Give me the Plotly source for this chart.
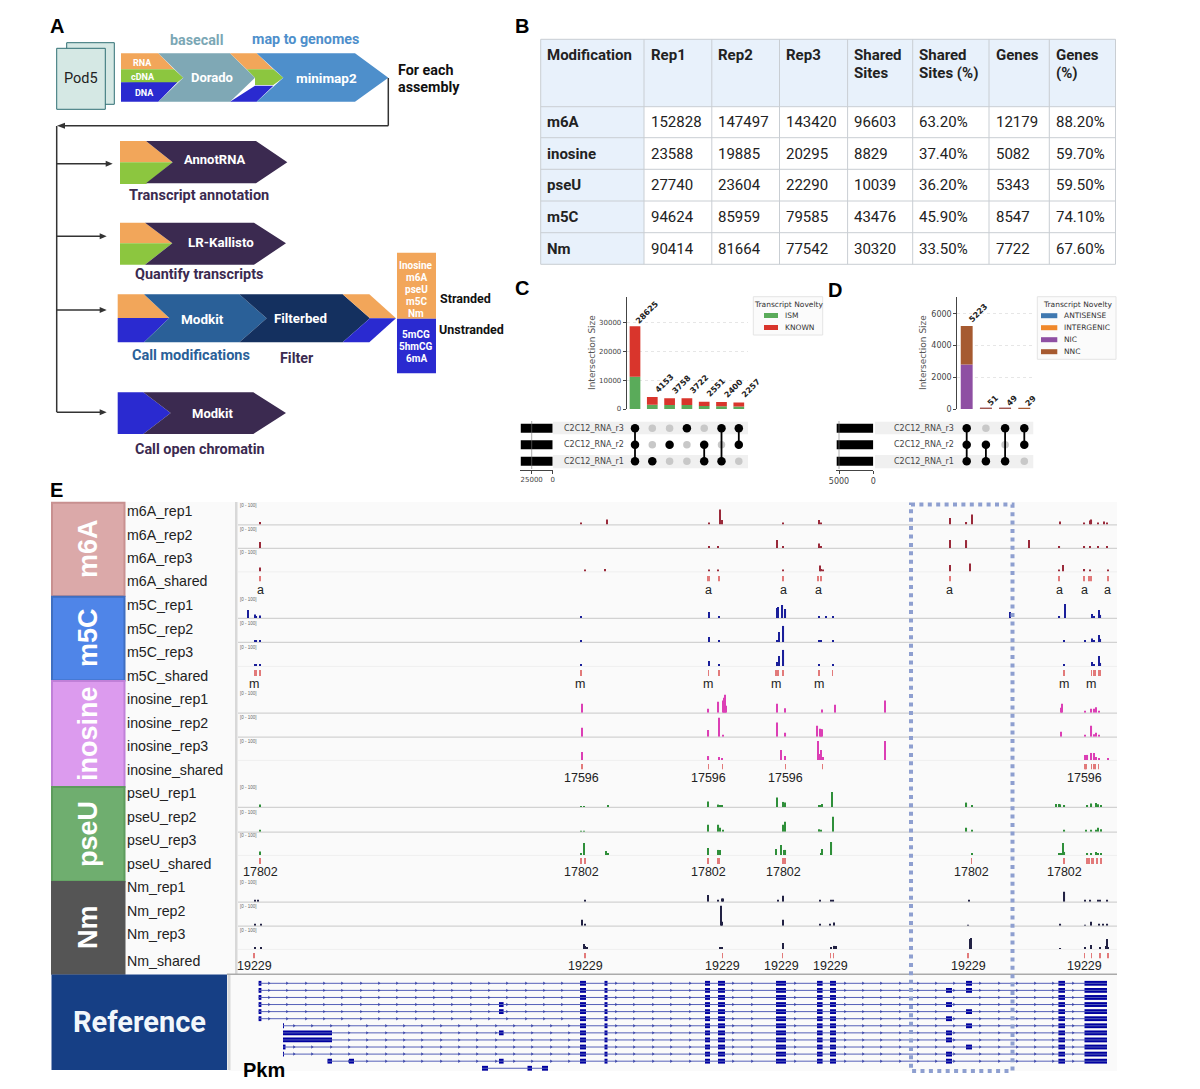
import plotly.graph_objects as go

W, H = 1200, 1089

# ---------- Panel B data ----------
TABLE_HEAD = ["Modification", "Rep1", "Rep2", "Rep3", "Shared<br>Sites", "Shared<br>Sites (%)", "Genes", "Genes<br>(%)"]
MODS = ["m6A", "inosine", "pseU", "m5C", "Nm"]
REP1 = ["152828", "23588", "27740", "94624", "90414"]
REP2 = ["147497", "19885", "23604", "85959", "81664"]
REP3 = ["143420", "20295", "22290", "79585", "77542"]
SHARED = ["96603", "8829", "10039", "43476", "30320"]
SHARED_PCT = ["63.20%", "37.40%", "36.20%", "45.90%", "33.50%"]
GENES = ["12179", "5082", "5343", "8547", "7722"]
GENES_PCT = ["88.20%", "59.70%", "59.50%", "74.10%", "67.60%"]

# ---------- Panel C / D data ----------
SETS = ["C2C12_RNA_r3", "C2C12_RNA_r2", "C2C12_RNA_r1"]
C_TOTAL = [28625, 4153, 3758, 3722, 2551, 2400, 2257]
C_ISM = [11200, 1500, 1400, 1350, 1000, 950, 900]
C_KNOWN = [17425, 2653, 2358, 2372, 1551, 1450, 1357]
C_MEMBERS = [[0, 1, 2], [2], [1], [0], [1, 2], [0, 2], [0, 1]]
C_SET_SIZE = [38000, 38000, 38000]
D_TOTAL = [5223, 51, 49, 29]
D_NIC = [2800, 22, 20, 12]
D_NNC = [2423, 29, 29, 17]
D_MEMBERS = [[0, 1, 2], [1, 2], [0, 2], [0, 1]]
D_SET_SIZE = [5340, 5340, 5340]

# ---------- Panel E data: position along the locus, coverage 0-100 ----------
M6A_REP1_POS = [260, 581, 607, 709, 720, 722, 783, 819, 821, 950, 966.5, 972, 1060, 1084.5, 1090, 1091.5, 1097.6, 1104, 1107]
M6A_REP1_VAL = [11, 5, 23, 7, 68, 20, 5, 20, 5, 30, 11, 45, 14, 7, 18, 23, 9, 14, 7]
M6A_REP2_POS = [260, 709, 718, 777, 783, 819, 821, 950, 966.5, 1029, 1059.5, 1084.5, 1090, 1098, 1107]
M6A_REP2_VAL = [27, 7, 5, 36, 5, 20, 5, 36, 36, 36, 5, 9, 9, 5, 5]
M6A_REP3_POS = [260, 585, 605, 709, 718, 783, 820, 821, 823, 950, 970, 1059.5, 1063, 1084.5, 1090.5, 1108]
M6A_REP3_VAL = [18, 5, 11, 5, 5, 5, 27, 11, 5, 30, 36, 7, 30, 11, 5, 5]
M6A_SHARED = [260, 708, 709.5, 719, 783, 818, 821, 950, 1059, 1084, 1089, 1091, 1108]

M5C_REP1_POS = [248, 255, 256.5, 260, 581, 709, 719, 777, 778, 782.5, 785.5, 819, 826, 833, 1010, 1059.5, 1065, 1092, 1094, 1099, 1100.5]
M5C_REP1_VAL = [36, 16, 9, 11, 5, 27, 5, 45, 50, 59, 41, 5, 5, 5, 27, 5, 64, 18, 5, 36, 14]
M5C_REP2_POS = [255, 256.5, 260, 581, 709, 719, 777, 779, 783.5, 819, 821, 833, 1064, 1085, 1092, 1094, 1099, 1100.5]
M5C_REP2_VAL = [9, 9, 9, 5, 23, 5, 9, 45, 73, 5, 5, 5, 5, 9, 16, 5, 32, 14]
M5C_REP3_POS = [255, 256.5, 260, 581, 709, 719, 777, 779, 783.5, 819, 833, 1064, 1092, 1094, 1099, 1100.5]
M5C_REP3_VAL = [9, 9, 7, 5, 23, 7, 18, 45, 73, 5, 5, 5, 18, 5, 45, 14]
M5C_SHARED = [255, 256.5, 260, 581, 708.5, 719, 776, 778, 783, 819, 832.5, 1064, 1091.5, 1093.5, 1095, 1099, 1100.5]

INO_REP1_POS = [582, 708.5, 718.5, 723, 724, 725, 726, 777, 785, 822, 835, 885, 1061, 1062, 1085, 1091.5, 1094, 1096, 1099]
INO_REP1_VAL = [41, 18, 50, 55, 68, 82, 32, 41, 20, 14, 36, 55, 23, 41, 9, 18, 18, 25, 5]
INO_REP2_POS = [582, 708.5, 719, 722.6, 777, 785.5, 817.5, 819.6, 821, 822, 1061, 1085, 1091.5, 1094, 1096, 1099]
INO_REP2_VAL = [41, 30, 86, 7, 64, 18, 50, 36, 34, 34, 23, 7, 50, 11, 18, 5]
INO_REP3_POS = [582, 708.5, 719, 722, 781, 785, 818, 819.6, 821, 822.6, 885, 1085, 1087.5, 1091.5, 1094, 1095.6, 1099, 1108]
INO_REP3_VAL = [36, 18, 14, 5, 45, 18, 86, 27, 45, 14, 86, 23, 23, 32, 32, 14, 5, 5]
INO_SHARED = [582, 708.5, 722.6, 785.5, 822.6, 1085, 1086, 1091.5, 1094, 1095.6, 1098.6]

PSEU_REP1_POS = [260, 581, 584, 608, 708, 718.5, 720, 722, 776.7, 783.5, 785, 819, 821, 822.3, 832, 966.5, 972, 1056, 1059, 1060.5, 1064.5, 1087.5, 1091.5, 1096, 1097.6, 1101]
PSEU_REP1_VAL = [11, 4, 4, 5, 25, 11, 9, 7, 43, 23, 20, 5, 7, 14, 68, 20, 5, 14, 14, 12, 5, 9, 16, 18, 12, 9]
PSEU_REP2_POS = [260, 581, 584, 708, 718.5, 720, 722.6, 783.5, 785, 819, 821, 833, 966.5, 972, 1064.5, 1085.8, 1091.5, 1096, 1098, 1101]
PSEU_REP2_VAL = [9, 4, 4, 32, 32, 18, 7, 32, 45, 11, 7, 68, 18, 5, 5, 9, 7, 9, 18, 11]
PSEU_REP3_POS = [260, 581, 584, 606, 608, 708, 718.5, 720, 776.4, 781, 784, 785.5, 821, 822.3, 831.5, 972, 1059, 1061, 1063, 1064.5, 1087.5, 1091.5, 1096, 1097.6, 1101]
PSEU_REP3_VAL = [16, 5, 55, 18, 7, 32, 23, 23, 27, 45, 23, 23, 9, 27, 59, 9, 7, 7, 55, 14, 9, 9, 14, 9, 5]
PSEU_SHARED = [260, 581, 585, 708, 718, 719.6, 782.7, 784.8, 971.6, 1064, 1087, 1089, 1092, 1093.4, 1096.6, 1097.6, 1101]

NM_REP1_POS = [255, 258, 585, 708, 718.5, 721.6, 723, 778, 783, 820, 831, 833.5, 969, 1064.5, 1085, 1090.5, 1097.6, 1099.6, 1107.5]
NM_REP1_VAL = [5, 5, 5, 30, 9, 14, 14, 9, 27, 5, 5, 7, 9, 45, 5, 9, 9, 7, 7]
NM_REP2_POS = [255, 261, 582, 585, 721, 722.3, 783, 820, 830, 834, 968.5, 1060.5, 1085, 1091, 1099.5, 1103, 1107.5]
NM_REP2_VAL = [5, 5, 27, 5, 91, 18, 27, 7, 5, 14, 3, 7, 3, 18, 5, 5, 5]
NM_REP3_POS = [255, 261, 583.6, 585, 587, 720, 722, 783, 831, 834.5, 835.8, 970, 971, 1060.5, 1085, 1091, 1099.6, 1105.7, 1107, 1108]
NM_REP3_VAL = [5, 5, 23, 14, 9, 5, 5, 27, 5, 14, 14, 45, 50, 3, 5, 18, 5, 14, 45, 9]
NM_SHARED = [254, 585, 722.6, 782.4, 830.4, 833.4, 968, 1084.5, 1091.5, 1100, 1108]

A_LABEL_POS = [260, 708, 783, 818, 949, 1059, 1084, 1107]
M_LABEL_POS = [254, 580, 708, 776, 819, 1064, 1091]
INO_LABEL_POS = [581, 708, 785, 1084]
PSEU_LABEL_POS = [260, 581, 708, 783, 971, 1064]
NM_LABEL_POS = [254, 585, 722, 782, 830, 968, 1084]

TRACK_NAMES = ["m6A_rep1", "m6A_rep2", "m6A_rep3", "m6A_shared",
               "m5C_rep1", "m5C_rep2", "m5C_rep3", "m5C_shared",
               "inosine_rep1", "inosine_rep2", "inosine_rep3", "inosine_shared",
               "pseU_rep1", "pseU_rep2", "pseU_rep3", "pseU_shared",
               "Nm_rep1", "Nm_rep2", "Nm_rep3", "Nm_shared"]

# Reference gene models
COMMON_EXON_START = [580, 604.5, 705, 718, 776, 817, 830, 1058.4, 1084.5]
COMMON_EXON_END = [586, 607.5, 710, 725, 786, 822.6, 836, 1065, 1107]
FIRST_EXON_START = [258.6, 258.6, 258.6, 258.6, 258.6, 258.6, 283, 283, 283, 283, 283, 327.5]
FIRST_EXON_END = [261.4, 261.4, 261.4, 261.4, 261.4, 261.4, 284, 332, 332, 285.5, 284, 332]
ALT_A_ROWS = [1, 3, 5, 7, 8, 10, 11]
ALT_B_ROWS = [0, 1, 4, 6, 9]
ALT_C_ROWS = [3, 4, 7, 11]
ALT_D_ROWS = [11]
LAST_ROW_EXON_START = [482, 527.5, 542]
LAST_ROW_EXON_END = [488, 532, 548]
INTRON_TICKS_A = [269, 287, 306, 324, 342, 361, 379, 397, 416, 434, 452, 471, 489, 507, 526, 544, 562]
INTRON_TICKS_B = [294, 312, 331, 349, 367, 386, 404, 422, 441, 459, 477, 496, 514, 532, 551, 569]
INTRON_TICKS_C = [616, 634, 653, 671, 690, 733, 752, 795, 845, 863, 881, 900, 918, 936, 954, 980, 999, 1017, 1035, 1053, 1073]

# ---------- helpers ----------
shapes, annots, traces = [], [], []
FONT = "Roboto, sans-serif"
ARIAL = "Liberation Sans, Arial, sans-serif"
DJ = "DejaVu Sans, sans-serif"
DARK = "#3b2a50"


def X(x):
    return x / W


def Y(y):
    return 1 - y / H


def poly(pts, fill, layer="below"):
    d = "M" + " L".join(f"{X(a):.5f},{Y(b):.5f}" for a, b in pts) + " Z"
    shapes.append(dict(type="path", path=d, xref="paper", yref="paper", fillcolor=fill, line=dict(width=0), layer=layer))


def zpoly(pts, fill):
    poly([(40 + a / 3, 10 + b / 3) for a, b in pts], fill)


def rect(x0, y0, x1, y1, fill="rgba(0,0,0,0)", line=None, lw=1, layer="below"):
    shapes.append(dict(type="rect", xref="paper", yref="paper", x0=X(x0), x1=X(x1), y0=Y(y0), y1=Y(y1),
                       fillcolor=fill, line=dict(color=line or fill, width=lw if line else 0), layer=layer))


def seg(x0, y0, x1, y1, color="#333", lw=1.5, layer="below", dash=None):
    shapes.append(dict(type="line", xref="paper", yref="paper", x0=X(x0), x1=X(x1), y0=Y(y0), y1=Y(y1),
                       line=dict(color=color, width=lw, dash=dash or "solid"), layer=layer))


def txt(x, y, s, size=12, color="#111", bold=False, family=FONT, anchor="center", angle=0):
    annots.append(dict(xref="paper", yref="paper", x=X(x), y=Y(y), text=f"<b>{s}</b>" if bold else s, showarrow=False,
                       font=dict(size=size, color=color, family=family), xanchor=anchor, yanchor="middle",
                       textangle=angle, borderpad=0, borderwidth=0))


def ztxt(x, y, s, size=12, color="#fff", bold=True, anchor="center"):
    txt(40 + x / 3, 10 + y / 3, s, size, color, bold, FONT, anchor)


layout_axes = {}
ax_n = {"x": 0, "y": 0}


def new_x(x0, x1, rng, **kw):
    ax_n["x"] += 1
    n = ax_n["x"]
    d = dict(domain=[X(x0), X(x1)], range=rng, visible=False, fixedrange=True)
    d.update(kw)
    layout_axes["xaxis" + ("" if n == 1 else str(n))] = d
    return "x" + ("" if n == 1 else str(n))


def new_y(y_top, y_bot, rng, **kw):
    ax_n["y"] += 1
    n = ax_n["y"]
    d = dict(domain=[Y(y_bot), Y(y_top)], range=rng, visible=False, fixedrange=True)
    d.update(kw)
    layout_axes["yaxis" + ("" if n == 1 else str(n))] = d
    return "y" + ("" if n == 1 else str(n))


def link(xa, ya):
    layout_axes["xaxis" + xa[1:]]["anchor"] = ya
    layout_axes["yaxis" + ya[1:]]["anchor"] = xa


# ---------- Panel letters ----------
for lx, ly, s in [(57, 26, "A"), (522, 26, "B"), (522, 288, "C"), (835, 290, "D"), (56, 490, "E")]:
    txt(lx, ly, s, 20, "#000", True, ARIAL)

# ---------- Panel A ----------
ORANGE, GREEN, BLUE = "#f2a65a", "#8cc63f", "#2a2ad0"
rect(66.7, 42.7, 114.3, 104.3, "#d5e8e4", "#2f6f73", 1)
rect(56.7, 48.3, 105.3, 109.3, "#d5e8e4", "#2f6f73", 1)
txt(81, 79, "Pod5", 14.5, "#222")
zpoly([(243, 130), (355, 130), (402, 178), (243, 178)], ORANGE)
zpoly([(243, 178), (402, 178), (430, 203), (402, 225), (243, 217)], GREEN)
zpoly([(243, 217), (412, 217), (355, 275), (243, 275)], BLUE)
zpoly([(355, 130), (570, 130), (645, 203), (570, 275), (355, 275), (430, 203)], "#7fa8b5")
zpoly([(570, 130), (650, 130), (700, 178), (620, 178)], ORANGE)
zpoly([(620, 178), (700, 178), (730, 203), (700, 225), (645, 225), (645, 203)], GREEN)
zpoly([(645, 227), (700, 227), (650, 275), (570, 275)], BLUE)
zpoly([(650, 130), (945, 130), (1045, 203), (945, 275), (650, 275), (730, 203)], "#4e8fcb")
ztxt(307, 158, "RNA", 9)
ztxt(310, 200, "cDNA", 9)
ztxt(312, 250, "DNA", 9)
ztxt(515, 203, "Dorado", 13)
ztxt(860, 203, "minimap2", 13.5)
ztxt(470, 90, "basecall", 14.3, "#7ba7b5")
ztxt(795, 88, "map to genomes", 14.3, "#4e8fcb")
ztxt(1073, 181, "For each", 14.3, "#111", True, "left")
ztxt(1073, 231, "assembly", 14.3, "#111", True, "left")

A_LINE = "#333333"
seg(388.3, 78, 388.3, 125.7, A_LINE)
seg(388.3, 125.7, 62, 125.7, A_LINE)
seg(56.7, 126, 56.7, 412, A_LINE)
poly([(57, 125.7), (65, 122.7), (65, 128.7)], A_LINE)
for y_, x_end in [(163.7, 112.7), (236.3, 106.7), (310, 106.7), (412.3, 106.7)]:
    seg(56.7, y_, x_end - 4, y_, A_LINE)
    poly([(x_end, y_), (x_end - 7, y_ - 3), (x_end - 7, y_ + 3)], A_LINE)

zpoly([(240, 393), (318, 393), (398, 457), (240, 457)], ORANGE)
zpoly([(240, 457), (398, 457), (318, 522), (240, 522)], GREEN)
zpoly([(318, 393), (648, 393), (742, 457), (648, 520), (318, 520), (398, 457)], DARK)
ztxt(522, 447, "AnnotRNA", 13)
ztxt(477, 558, "Transcript annotation", 14.5, DARK)

zpoly([(240, 638), (315, 638), (397, 700), (240, 700)], ORANGE)
zpoly([(240, 700), (397, 700), (315, 764), (240, 764)], GREEN)
zpoly([(315, 638), (642, 638), (738, 700), (642, 764), (315, 764), (397, 700)], DARK)
ztxt(544, 696, "LR-Kallisto", 13.3)
ztxt(477, 792, "Quantify transcripts", 14.4, DARK)

zpoly([(233, 853), (312, 853), (388, 924), (233, 924)], ORANGE)
zpoly([(233, 924), (388, 924), (312, 997), (233, 997)], BLUE)
zpoly([(312, 853), (598, 853), (680, 925), (598, 997), (312, 997), (388, 924)], "#2a6098")
zpoly([(598, 853), (908, 853), (990, 925), (908, 997), (598, 997), (680, 925)], "#14305f")
zpoly([(908, 853), (988, 853), (1068, 925), (990, 925)], ORANGE)
zpoly([(990, 925), (1068, 925), (988, 997), (908, 997)], BLUE)
ztxt(486, 927, "Modkit", 13.5)
ztxt(782, 925, "Filterbed", 13.3)
ztxt(452, 1035, "Call modifications", 14.5, "#2a6098")
ztxt(770, 1044, "Filter", 14.3, DARK)
zpoly([(1071, 728), (1188, 728), (1188, 926), (1071, 926)], ORANGE)
zpoly([(1071, 926), (1188, 926), (1188, 1090), (1071, 1090)], BLUE)
for yy, s in [(767, "Inosine"), (803, "m6A"), (839, "pseU"), (875, "m5C"), (911, "Nm"),
              (974, "5mCG"), (1010, "5hmCG"), (1047, "6mA")]:
    ztxt(1129, yy, s, 10)
ztxt(1199, 864, "Stranded", 12.5, "#111", True, "left")
ztxt(1198, 957, "Unstranded", 12.5, "#111", True, "left")

zpoly([(233, 1147), (310, 1147), (392, 1209), (310, 1272), (233, 1272)], BLUE)
zpoly([(310, 1147), (640, 1147), (738, 1209), (640, 1272), (310, 1272), (392, 1209)], DARK)
ztxt(517, 1211, "Modkit", 13)
ztxt(480, 1318, "Call open chromatin", 14.4, DARK)

# ---------- Panel B ----------
COL_EDGES = [540.7, 644, 711.8, 779.5, 847.6, 912.7, 989, 1049.3, 1115.5]
ROW_EDGES = [39.3, 106.7, 137.7, 169.3, 201, 232.7, 264.3]
TB_FILL = "#e8f1fb"
TB_LINE = "#c9ced3"
rect(COL_EDGES[0], ROW_EDGES[0], COL_EDGES[-1], ROW_EDGES[1], TB_FILL)
rect(COL_EDGES[0], ROW_EDGES[1], COL_EDGES[1], ROW_EDGES[-1], TB_FILL)
for e in COL_EDGES:
    seg(e, ROW_EDGES[0], e, ROW_EDGES[-1], TB_LINE, 1)
for e in ROW_EDGES:
    seg(COL_EDGES[0], e, COL_EDGES[-1], e, TB_LINE, 1)
for j, h in enumerate(TABLE_HEAD):
    parts = h.split("<br>")
    for k, p in enumerate(parts):
        txt(COL_EDGES[j] + 6.5, 55 + 18.3 * k, p, 15, "#222", True, FONT, "left")
COLUMNS = [MODS, REP1, REP2, REP3, SHARED, SHARED_PCT, GENES, GENES_PCT]
for j, col in enumerate(COLUMNS):
    for i, v in enumerate(col):
        txt(COL_EDGES[j] + 6.5, (ROW_EDGES[i + 1] + ROW_EDGES[i + 2]) / 2, v, 15, "#222", j == 0, FONT, "left")


# ---------- Panels C, D ----------
def upset(ax_l, ax_r, top_rng_max, tickvals, pitch_left, n, stacks, totals, members, set_sizes,
          left_x0, left_x1, left_max, left_ticks, stripe_x0, label_x, title_x, shift_big, shift_small, tick_size):
    xa = new_x(ax_l, ax_r, [(ax_l - pitch_left[0]) / pitch_left[1], (ax_r - pitch_left[0]) / pitch_left[1]])
    ya = new_y(296.7, 409, [0, top_rng_max], visible=True, showline=True, linecolor="#444", linewidth=1,
               tickvals=tickvals, tickformat="d", ticks="outside", ticklen=3, tickcolor="#444", tickwidth=1,
               tickfont=dict(size=tick_size, color="#444", family=DJ), showgrid=True,
               gridcolor="#e6e6e6", griddash="dot", gridwidth=1, zeroline=False)
    link(xa, ya)
    cats = list(range(n))
    bw = 0.62
    for vals, base, col in stacks:
        traces.append(go.Bar(x=cats, y=vals, base=base, width=bw, marker=dict(color=col, line=dict(width=0)),
                             xaxis=xa, yaxis=ya, showlegend=False, hoverinfo="skip"))
    for i, v in enumerate(totals):
        sx, sy = shift_big if len(str(v)) >= 4 else shift_small
        annots.append(dict(xref=xa, yref=ya, x=i, y=v, text=f"<b>{v}</b>", textangle=-45, showarrow=False, xshift=sx, yshift=sy,
                           font=dict(size=8, color="#222", family=DJ), xanchor="center", yanchor="middle"))
    txt(title_x, 353, "Intersection Size", 9, "#555", False, DJ, angle=-90)

    # matrix
    rect(stripe_x0, 421.7, ax_r, 434.3, "#f0f0f0")
    rect(stripe_x0, 455, ax_r, 468.3, "#f0f0f0")
    xm = new_x(ax_l, ax_r, [(ax_l - pitch_left[0]) / pitch_left[1], (ax_r - pitch_left[0]) / pitch_left[1]])
    ym = new_y(420, 470, [(470 - 428.3) / 16.5, (420 - 428.3) / 16.5])
    link(xm, ym)
    gx, gy, bx, by, lx, ly = [], [], [], [], [], []
    for i, mem in enumerate(members):
        for r in range(3):
            (bx if r in mem else gx).append(i)
            (by if r in mem else gy).append(r)
        if len(mem) > 1:
            lx += [i, i, None]
            ly += [min(mem), max(mem), None]
    traces.append(go.Scatter(x=gx, y=gy, mode="markers", marker=dict(size=7.5, color="#c8c8c8"), xaxis=xm, yaxis=ym, showlegend=False, hoverinfo="skip", cliponaxis=False))
    traces.append(go.Scatter(x=lx, y=ly, mode="lines", line=dict(color="#000", width=1.8), xaxis=xm, yaxis=ym, showlegend=False, hoverinfo="skip"))
    traces.append(go.Scatter(x=bx, y=by, mode="markers", marker=dict(size=8.5, color="#000"), xaxis=xm, yaxis=ym, showlegend=False, hoverinfo="skip", cliponaxis=False))
    for r, s in enumerate(SETS):
        txt(label_x, 428.3 + 16.5 * r + 0.2, s, 8, "#444", False, DJ, "right")

    # left bars
    xl = new_x(left_x0, left_x1, [left_max, 0], visible=True, side="bottom", tickvals=left_ticks, ticks="outside", ticklen=3,
               showline=True, linecolor="#444", linewidth=1, tickcolor="#444", tickfont=dict(size=tick_size, color="#444", family=DJ),
               showgrid=False, zeroline=False, tickformat="d")
    yl = new_y(420, 470, [(470 - 428.3) / 16.5, (420 - 428.3) / 16.5])
    link(xl, yl)
    traces.append(go.Bar(x=set_sizes, y=[0, 1, 2], orientation="h", width=0.54, marker=dict(color="#000", line=dict(width=0)),
                         xaxis=xl, yaxis=yl, showlegend=False, hoverinfo="skip"))


upset(626.7, 748, 38900, [0, 10000, 20000, 30000], (635, 17.3), 7,
      [(C_ISM, None, "#5aab5a"), (C_KNOWN, C_ISM, "#d9352c")], C_TOTAL, C_MEMBERS, C_SET_SIZE,
      520, 552.7, 38930, [25000, 0], 553, 624, 592, (12, 14), (7, 8), 7)
upset(957.3, 1033.3, 7070, [0, 2000, 4000, 6000], (966.7, 19.2), 4,
      [(D_NIC, None, "#8e4fa3"), (D_NNC, D_NIC, "#a65a30")], D_TOTAL, D_MEMBERS, D_SET_SIZE,
      836, 873.3, 5440, [5000, 0], 875, 954, 923, (11, 13), (7, 8), 8)
seg(531.7, 421, 531.7, 469, "#777", 0.6, "above")
seg(839, 421, 839, 469, "#777", 0.6, "above")

# legends
rect(753.3, 296.7, 822.7, 335, "#fbfbfb", "#e4e4e4", 1)
txt(788, 304, "Transcript Novelty", 7.5, "#333", False, DJ)
for yy, col, s in [(315.5, "#5aab5a", "ISM"), (327.5, "#d9352c", "KNOWN")]:
    rect(764, yy - 2.5, 778, yy + 2.5, col)
    txt(785, yy, s, 7.5, "#333", False, DJ, "left")
rect(1037.3, 296.7, 1116, 359.3, "#fbfbfb", "#e4e4e4", 1)
txt(1077, 304, "Transcript Novelty", 7.5, "#333", False, DJ)
for yy, col, s in [(315.7, "#3f78b0", "ANTISENSE"), (327.7, "#f0882a", "INTERGENIC"), (339.7, "#8e4fa3", "NIC"), (351.7, "#a65a30", "NNC")]:
    rect(1041, yy - 2.5, 1057.3, yy + 2.5, col)
    txt(1064, yy, s, 7.5, "#333", False, DJ, "left")

# ---------- Panel E ----------
rect(125, 502, 1117, 974, "#fafafa")
rect(229, 975, 1117, 1071, "#fafafa")
rect(235, 502, 237.5, 974, "#d8d8d8")
rect(227.5, 975, 230.5, 1070, "#d8d8d8")
seg(227, 974.3, 1117, 974.3, "#aaaaaa", 1.6)

BLOCKS = [("m6A", 502.7, 596, "#dba9a9", "#c89090", 549),
          ("m5C", 596.7, 680.5, "#4f85e8", "#3f6ec0", 638),
          ("inosine", 681, 787, "#dc9bee", "#c080d8", 734),
          ("pseU", 787, 881.5, "#6fae6f", "#5d9b5d", 834),
          ("Nm", 882, 973.7, "#555555", "#555555", 927)]
for name, y0, y1, fill, edge, yc in BLOCKS:
    rect(52, y0, 124.5, y1, fill, edge, 2)
    txt(88, yc, name, 27, "#ffffff", True, ARIAL, angle=-90)
rect(51.5, 974.5, 227, 1070, "#163f85")
txt(139, 1022, "Reference", 29, "#f2f7fb", True, FONT)
txt(243, 1070, "Pkm", 20, "#000", True, ARIAL, "left")

LABEL_Y = [511, 535, 558, 581, 605, 629, 652, 676, 699, 723, 746, 770, 793, 817, 840, 864, 887, 911, 934, 961]
for name, yy in zip(TRACK_NAMES, LABEL_Y):
    txt(127, yy, name, 14.2, "#222", False, ARIAL, "left")

xt = new_x(235, 1117, [235, 1117])
C_M6A, C_M5C, C_INO, C_PSEU, C_NM, C_TICK = "#9a2a3a", "#1a1f9a", "#dc3fb5", "#2f8f3a", "#222244", "#e27a7a"
REP_TRACKS = [
    (524.5, M6A_REP1_POS, M6A_REP1_VAL, C_M6A, 1), (548, M6A_REP2_POS, M6A_REP2_VAL, C_M6A, 1), (571.5, M6A_REP3_POS, M6A_REP3_VAL, C_M6A, 0),
    (618, M5C_REP1_POS, M5C_REP1_VAL, C_M5C, 1), (642, M5C_REP2_POS, M5C_REP2_VAL, C_M5C, 1), (666, M5C_REP3_POS, M5C_REP3_VAL, C_M5C, 0),
    (712.7, INO_REP1_POS, INO_REP1_VAL, C_INO, 1), (736.7, INO_REP2_POS, INO_REP2_VAL, C_INO, 1), (760, INO_REP3_POS, INO_REP3_VAL, C_INO, 0),
    (807, PSEU_REP1_POS, PSEU_REP1_VAL, C_PSEU, 1), (831.7, PSEU_REP2_POS, PSEU_REP2_VAL, C_PSEU, 1), (855, PSEU_REP3_POS, PSEU_REP3_VAL, C_PSEU, 0),
    (901.7, NM_REP1_POS, NM_REP1_VAL, C_NM, 1), (925.7, NM_REP2_POS, NM_REP2_VAL, C_NM, 1), (949, NM_REP3_POS, NM_REP3_VAL, C_NM, 0),
]
first_y = None
for base_y, pos, val, col, strong in REP_TRACKS:
    seg(238, base_y + 0.4, 1117, base_y + 0.4, "#d2d2d2" if strong else "#efefef", 1.2 if strong else 1)
    ya = new_y(base_y - 22, base_y, [0, 100])
    if first_y is None:
        first_y = ya
    layout_axes["yaxis" + ya[1:]]["anchor"] = xt
    traces.append(go.Bar(x=pos, y=val, width=1.1, marker=dict(color=col, line=dict(width=0)), xaxis=xt, yaxis=ya, showlegend=False, hoverinfo="skip"))
    txt(240, base_y - 19, "[0 - 100]", 4.5, "#666", False, ARIAL, "left")
layout_axes["xaxis" + xt[1:]]["anchor"] = first_y

SHARED_TRACKS = [(576, 581.5, M6A_SHARED), (670, 676, M5C_SHARED), (764, 769.5, INO_SHARED), (858, 864, PSEU_SHARED), (953, 958.5, NM_SHARED)]
for y0, y1, pos in SHARED_TRACKS:
    ya = new_y(y0, y1, [0, 1])
    layout_axes["yaxis" + ya[1:]]["anchor"] = xt
    traces.append(go.Bar(x=pos, y=[1] * len(pos), width=0.8, marker=dict(color=C_TICK, line=dict(width=0)), xaxis=xt, yaxis=ya, showlegend=False, hoverinfo="skip"))

for positions, yy, s in [(A_LABEL_POS, 590, "a"), (M_LABEL_POS, 684, "m"), (INO_LABEL_POS, 778, "17596"),
                         (PSEU_LABEL_POS, 872, "17802"), (NM_LABEL_POS, 966, "19229")]:
    for p in positions:
        txt(p, yy, s, 12.5, "#222", False, ARIAL)

# reference gene models
xr = new_x(229, 1117, [229, 1117])
yr = new_y(976, 1072, [(1072 - 983.3) / 7.08, (976 - 983.3) / 7.08])
link(xr, yr)
NROWS = 12
lx, ly = [], []
for r in range(NROWS):
    lx += [FIRST_EXON_START[r], 1107, None]
    ly += [r, r, None]
lx += [482, 548, None]
ly += [12, 12, None]
traces.append(go.Scatter(x=lx, y=ly, mode="lines", line=dict(color="#5560b8", width=1), xaxis=xr, yaxis=yr, showlegend=False, hoverinfo="skip"))
tx, ty = [], []
for r in range(NROWS):
    ticks = INTRON_TICKS_A if r < 6 else INTRON_TICKS_B
    for t in list(ticks) + INTRON_TICKS_C:
        if t > FIRST_EXON_END[r]:
            tx.append(t)
            ty.append(r)
traces.append(go.Scatter(x=tx, y=ty, mode="markers", marker=dict(symbol="triangle-right", size=3, color="#3a45a8"), xaxis=xr, yaxis=yr, showlegend=False, hoverinfo="skip"))

es, ee, er = [], [], []
for r in range(NROWS):
    es.append(FIRST_EXON_START[r]); ee.append(FIRST_EXON_END[r]); er.append(r)
    for a, b in zip(COMMON_EXON_START, COMMON_EXON_END):
        if a > FIRST_EXON_START[r]:
            es.append(a); ee.append(b); er.append(r)
for rows, a, b in [(ALT_A_ROWS, 946, 952), (ALT_B_ROWS, 966, 972), (ALT_C_ROWS, 499, 503.6), (ALT_D_ROWS, 349, 354)]:
    for r in rows:
        es.append(a); ee.append(b); er.append(r)
for a, b in zip(LAST_ROW_EXON_START, LAST_ROW_EXON_END):
    es.append(a); ee.append(b); er.append(12)
traces.append(go.Bar(y=er, x=[b - a for a, b in zip(es, ee)], base=es, orientation="h", width=0.68,
                     marker=dict(color="#0000a0", line=dict(width=0)), xaxis=xr, yaxis=yr, showlegend=False, hoverinfo="skip"))

# highlight box
shapes.append(dict(type="rect", xref="paper", yref="paper", x0=X(911), x1=X(1012.5), y0=Y(504.5), y1=Y(1071),
                   line=dict(color="#8e9fd0", width=4, dash="4px,4.4px"), fillcolor="rgba(0,0,0,0)", layer="above"))

fig = go.Figure(data=traces)
fig.update_layout(width=W, height=H, margin=dict(l=0, r=0, t=0, b=0, pad=0, autoexpand=False), paper_bgcolor="#ffffff", plot_bgcolor="rgba(0,0,0,0)",
                  barmode="overlay", showlegend=False, shapes=shapes, annotations=annots, hovermode=False, **layout_axes)
fig.write_html("out.html", config={"displayModeBar": False},
               post_script="document.body.style.margin='0';document.body.style.padding='0';")
